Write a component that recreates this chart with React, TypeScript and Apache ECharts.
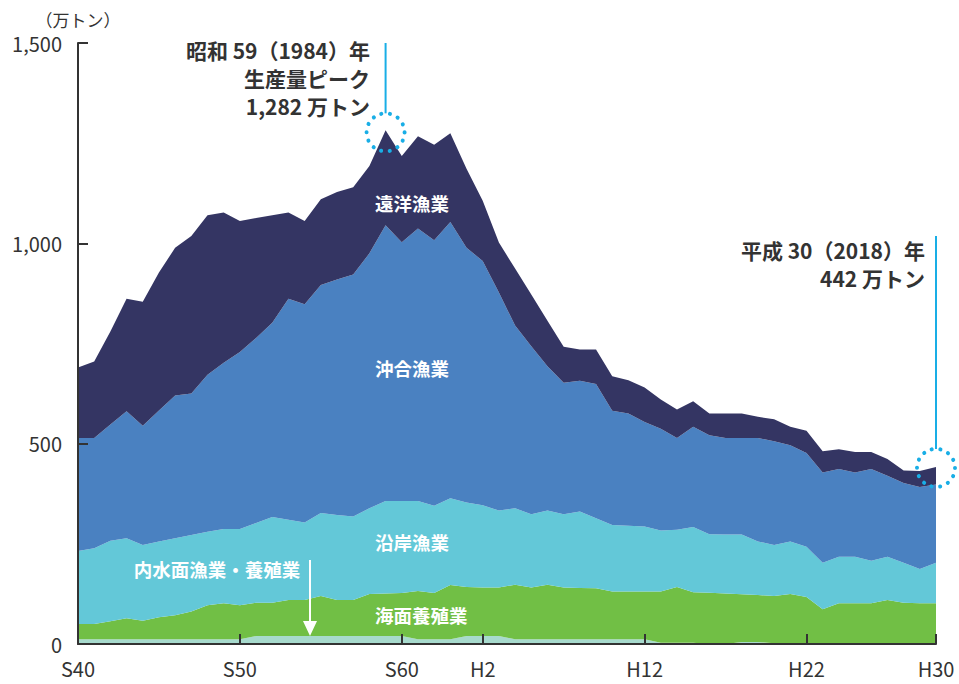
import React, { useEffect, useRef } from "react";
import * as echarts from "echarts";

const categories = [
  "S40","S41","S42","S43","S44","S45","S46","S47","S48","S49",
  "S50","S51","S52","S53","S54","S55","S56","S57","S58","S59",
  "S60","S61","S62","S63","H1","H2","H3","H4","H5","H6",
  "H7","H8","H9","H10","H11","H12","H13","H14","H15","H16",
  "H17","H18","H19","H20","H21","H22","H23","H24","H25","H26",
  "H27","H28","H29","H30",
];
const shownLabels = ["S40", "S50", "S60", "H2", "H12", "H22", "H30"];
const yTicks = [0, 500, 1000, 1500];

// 内水面漁業・養殖業
const inlandValues = [
  12,12,12,12,12,12,12,12,12,12,
  12,20,20,20,20,20,20,20,20,20,
  20,12,12,12,20,20,20,12,12,12,
  12,12,12,12,12,12,3,3,3,0,
  0,5,5,2,0,0,0,0,0,0,
  0,0,0,0,
];
// 海面養殖業
const marineCultureValues = [
  38,38,45,52,46,55,60,69,85,90,
  85,83,83,90,90,100,90,90,105,106,
  107,120,115,135,122,121,121,136,129,136,
  129,128,127,119,119,119,128,139,126,128,
  126,119,117,118,125,117,87,102,102,102,
  110,103,102,102,
];
// 沿岸漁業
const coastalValues = [
  182,189,201,200,189,189,192,191,183,185,
  190,199,214,200,193,207,212,208,214,231,
  230,225,218,217,211,205,192,191,183,185,
  183,191,175,166,164,162,152,143,163,146,
  147,149,134,127,131,126,116,116,116,106,
  108,100,85,101,
];
// 沖合漁業
const offshoreValues = [
  282,275,290,317,298,327,356,353,392,415,
  442,462,485,552,545,569,588,604,636,688,
  646,680,663,689,636,610,544,456,419,360,
  328,326,335,285,280,261,254,229,250,247,
  241,241,258,259,240,234,225,219,210,229,
  202,199,205,195,
];
// 遠洋漁業
const distantWaterValues = [
  176,191,232,281,309,344,369,393,398,375,
  327,299,268,215,208,214,218,218,218,237,
  215,230,238,222,197,150,125,142,129,114,
  90,78,86,86,83,86,73,71,64,54,
  61,61,53,55,46,55,53,49,51,42,
  42,31,40,44,
];

const FONT = "'Noto Sans CJK JP', 'Noto Sans', sans-serif";
const ACCENT = "#19aee6";

export default function App() {
  const ref = useRef<HTMLDivElement>(null);

  useEffect(() => {
    if (!ref.current) return;
    const chart = echarts.init(ref.current, undefined, { renderer: "svg" });

    const mk = (name: string, data: number[], color: string) => ({
      name,
      type: "line",
      stack: "total",
      data,
      symbol: "none",
      lineStyle: { width: 0 },
      areaStyle: { color, opacity: 1 },
      itemStyle: { color },
      emphasis: { disabled: true },
    });

    chart.setOption({
      animation: false,
      backgroundColor: "#ffffff",
      grid: { left: 78, right: 23, top: 43, bottom: 40, containLabel: false },
      xAxis: {
        type: "category",
        data: categories,
        boundaryGap: false,
        axisLine: { show: true, lineStyle: { color: "#333333", width: 2 } },
        axisTick: {
          show: true,
          inside: true,
          length: 10,
          interval: (i: number) => i !== 0 && shownLabels.includes(categories[i]),
          lineStyle: { color: "#333333", width: 2 },
        },
        axisLabel: {
          interval: (i: number) => shownLabels.includes(categories[i]),
          color: "#333333",
          fontSize: 20,
          fontFamily: FONT,
          margin: 14,
        },
        splitLine: { show: false },
        z: 10,
      },
      yAxis: {
        type: "value",
        min: 0,
        max: 1500,
        interval: 500,
        name: "（万トン）",
        nameLocation: "end",
        nameGap: 15,
        nameTextStyle: { color: "#333333", fontSize: 17, fontFamily: FONT, align: "center" },
        axisLine: { show: true, lineStyle: { color: "#333333", width: 2 } },
        axisTick: { show: true, inside: true, length: 10, lineStyle: { color: "#333333", width: 2 } },
        axisLabel: {
          color: "#333333",
          fontSize: 20,
          fontFamily: FONT,
          margin: 16,
          formatter: (v: number) => (yTicks.includes(v) ? v.toLocaleString("en-US") : ""),
        },
        splitLine: { show: false },
        z: 10,
      },
      series: [
        mk("内水面漁業・養殖業", inlandValues, "#a7dacd"),
        mk("海面養殖業", marineCultureValues, "#71bf45"),
        mk("沿岸漁業", coastalValues, "#63c8d8"),
        mk("沖合漁業", offshoreValues, "#4a81c1"),
        mk("遠洋漁業", distantWaterValues, "#343563"),
      ],
    });

    const total = (i: number) =>
      inlandValues[i] + marineCultureValues[i] + coastalValues[i] + offshoreValues[i] + distantWaterValues[i];
    const peakIdx = categories.indexOf("S59");
    const lastIdx = categories.length - 1;
    const peak = chart.convertToPixel({ xAxisIndex: 0, yAxisIndex: 0 }, [peakIdx, total(peakIdx)]) as number[];
    const last = chart.convertToPixel({ xAxisIndex: 0, yAxisIndex: 0 }, [lastIdx, total(lastIdx)]) as number[];
    const r = 19;

    const dotted = (cx: number, cy: number) => ({
      type: "circle",
      shape: { cx, cy, r },
      style: { fill: "none", stroke: ACCENT, lineWidth: 4, lineDash: [0.1, 8.4], lineCap: "round" },
      z: 100,
    });
    const vline = (x: number, y1: number, y2: number) => ({
      type: "line",
      shape: { x1: x, y1, x2: x, y2 },
      style: { stroke: ACCENT, lineWidth: 2 },
      z: 100,
    });
    const darkText = (text: string, x: number, y: number) => ({
      type: "text",
      x,
      y,
      style: {
        text,
        fill: "#333333",
        font: `bold 21px ${FONT}`,
        align: "right",
        verticalAlign: "middle",
      },
      z: 100,
    });
    const whiteText = (text: string, x: number, y: number, align = "center") => ({
      type: "text",
      x,
      y,
      style: {
        text,
        fill: "#ffffff",
        font: `bold 18.5px ${FONT}`,
        align,
        verticalAlign: "middle",
      },
      z: 100,
    });

    chart.setOption({
      graphic: [
        dotted(peak[0], peak[1] + 2),
        vline(peak[0], 43, peak[1] + 2 - r),
        darkText("昭和 59（1984）年", 370, 50),
        darkText("生産量ピーク", 370, 78),
        darkText("1,282 万トン", 370, 106),
        dotted(last[0], last[1] + 1),
        vline(last[0], 236, last[1] + 1 - r),
        darkText("平成 30（2018）年", 925, 250),
        darkText("442 万トン", 925, 278),
        whiteText("遠洋漁業", 412, 203),
        whiteText("沖合漁業", 412, 368),
        whiteText("沿岸漁業", 412, 542),
        whiteText("海面養殖業", 375, 615, "left"),
        whiteText("内水面漁業・養殖業", 217, 569),
        {
          type: "line",
          shape: { x1: 310, y1: 560, x2: 310, y2: 624 },
          style: { stroke: "#ffffff", lineWidth: 2 },
          z: 100,
        },
        {
          type: "polygon",
          shape: { points: [[303, 621], [317, 621], [310, 636]] },
          style: { fill: "#ffffff" },
          z: 100,
        },
      ],
    });

    return () => chart.dispose();
  }, []);

  return (
    <div
      ref={ref}
      style={{ position: "fixed", left: 0, top: 0, width: 959, height: 684, background: "#fff" }}
    />
  );
}
